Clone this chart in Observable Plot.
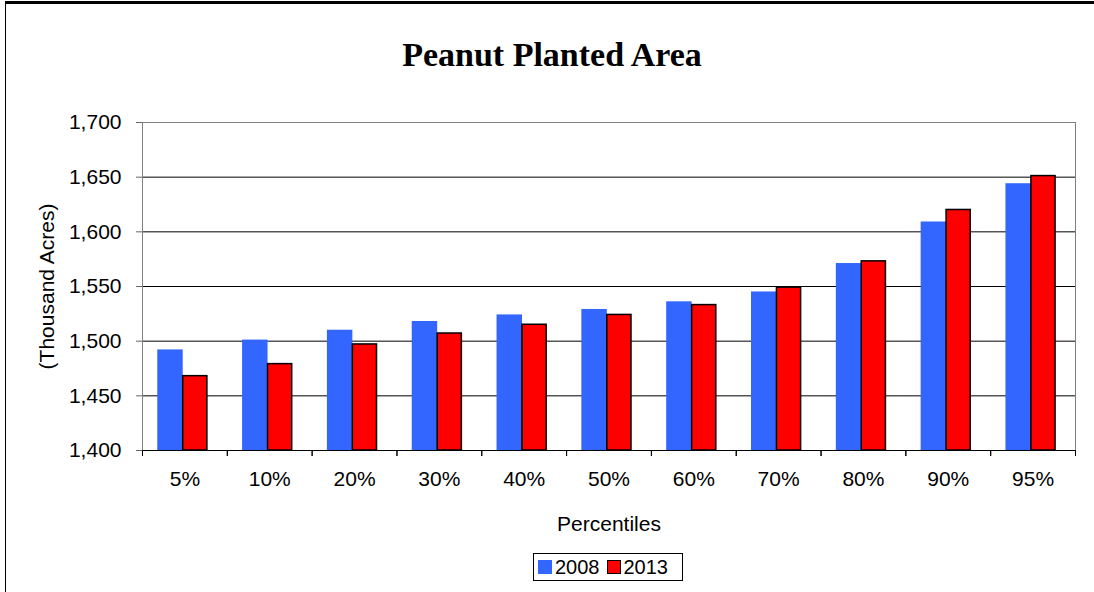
<!DOCTYPE html>
<html><head><meta charset="utf-8">
<script src="https://cdn.jsdelivr.net/npm/d3@7"></script>
<script src="https://cdn.jsdelivr.net/npm/@observablehq/plot@0.6"></script>
<style>
html,body{margin:0;padding:0;background:#fff;}
body{width:1094px;height:592px;position:relative;overflow:hidden;font-family:"Liberation Sans",Arial,sans-serif;}
#border{position:absolute;left:5px;top:1px;width:1200px;height:700px;border-left:1px solid #000;border-top:3px solid #000;z-index:5;pointer-events:none;}
#title{position:absolute;left:5px;width:1094px;top:35px;line-height:40px;text-align:center;font-family:"Liberation Serif","Times New Roman",serif;font-weight:bold;font-size:34px;color:#000;}
#chart{position:absolute;left:0;top:100px;}
#legend{position:absolute;left:533px;top:553px;width:150px;height:28px;border:1px solid #000;display:flex;align-items:center;font-size:20px;color:#000;box-sizing:border-box;padding-left:4px;}
#legend .sw{width:14px;height:14px;display:inline-block;margin-right:3px;box-sizing:border-box;}
#legend .it{display:flex;align-items:center;margin-right:7px;}
</style>
</head><body>
<div id="border"></div>
<div id="title">Peanut Planted Area</div>
<div id="chart"></div>
<div id="legend"></div>
<script>
const categories = ["5%","10%","20%","30%","40%","50%","60%","70%","80%","90%","95%"];
const series = ["2008","2013"];
const values2008 = [1492,1501,1510,1518,1524,1529,1536,1545,1571,1609,1644];
const values2013 = [1468,1479,1497,1507,1515,1524,1533,1549,1573,1620,1651];
const yTicks = [1400,1450,1500,1550,1600,1650,1700];
const colors = ["#3366FF","#FF0000"];
const title = "Peanut Planted Area";
const yLabel = "(Thousand Acres)";
const xLabel = "Percentiles";

const data = categories.flatMap((c,i)=>[
  {cat:c, year:series[0], value:values2008[i]},
  {cat:c, year:series[1], value:values2013[i]}
]);

const W = 1094, mL = 142, mR = 19;
const bw = (W - mL - mR) / categories.length;
const base = yTicks[0];

const chart = Plot.plot({
  width: W, height: 435,
  marginLeft: mL, marginRight: mR, marginTop: 22, marginBottom: 85,
  style: {fontFamily: "Liberation Sans, Arial, sans-serif", fontSize: "21px", color: "#000", background: "transparent", overflow: "visible"},
  x: {domain: categories, padding: 0, round: false},
  y: {domain: [yTicks[0], yTicks[yTicks.length-1]]},
  marks: [
    Plot.gridY(yTicks, {stroke: "#000", strokeOpacity: 1}),
    Plot.barY(data.filter(d => d.year === series[0]), {x: "cat", y1: base, y2: "value", fill: colors[0], insetLeft: bw*0.18, insetRight: bw*0.52}),
    Plot.barY(data.filter(d => d.year === series[1]), {x: "cat", y1: base, y2: "value", fill: colors[1], stroke: "#000", strokeWidth: 1.5, insetLeft: bw*0.48, insetRight: bw*0.235}),
    Plot.frame({stroke: "#808080"}),
    Plot.ruleY([base], {stroke: "#000"}),
    Plot.axisY(yTicks, {tickFormat: d3.format(","), tickSize: 6, tickPadding: 15, stroke: "#666", label: yLabel, labelAnchor: "center", labelOffset: 103, labelArrow: "none"}),
    Plot.axisX({tickSize: 6, fill: "none", dx: -bw/2, label: null}),
    Plot.axisX({tickSize: 6, fill: "none", dx: bw/2, label: null}),
    Plot.axisX({tickSize: 0, tickPadding: 21, label: xLabel, labelAnchor: "center", labelOffset: 80, labelArrow: "none"})
  ]
});
document.getElementById("chart").appendChild(chart);

const lg = document.getElementById("legend");
series.forEach((s, i) => {
  const it = document.createElement("span");
  it.className = "it";
  const sw = document.createElement("span");
  sw.className = "sw";
  sw.style.background = colors[i];
  if (i === 1) sw.style.border = "1px solid #000";
  it.appendChild(sw);
  it.appendChild(document.createTextNode(s));
  lg.appendChild(it);
});
</script>
</body></html>
